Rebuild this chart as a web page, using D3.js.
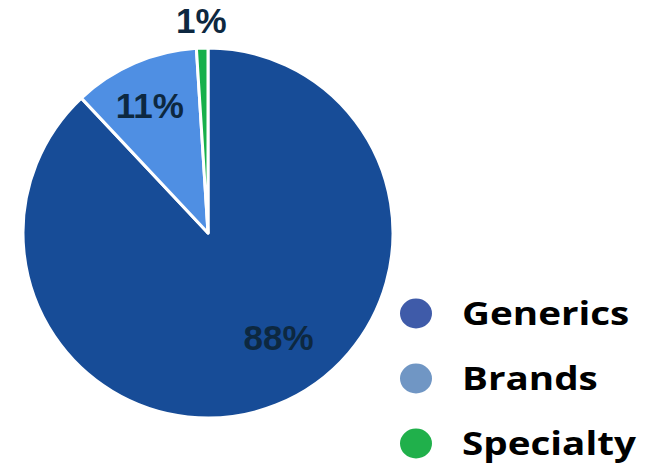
<!DOCTYPE html>
<html><head><meta charset="utf-8">
<script src="https://cdn.jsdelivr.net/npm/d3@7"></script>
<style>body{margin:0;background:#fff}svg{display:block}</style>
</head><body>
<svg id="c" width="647" height="467"></svg>
<script>
const categories = ["Generics", "Brands", "Specialty"];
const values = [88, 11, 1];
const labels = ["88%", "11%", "1%"];
const sliceColors = ["#174C97", "#4F8FE3", "#17B04B"];
const legendColors = ["#3F5BA9", "#7096C4", "#20B04B"];

const svg = d3.select("#c");
const cx = 208, cy = 233, r = 185;
const data = categories.map((c, i) => ({cat: c, value: values[i], label: labels[i], i}));
const pie = d3.pie().sort(null).value(d => d.value);
const arcs = pie(data);
const arc = d3.arc().innerRadius(0).outerRadius(r);
const g = svg.append("g").attr("transform", `translate(${cx},${cy})`);
g.selectAll("path").data(arcs).join("path")
  .attr("d", arc)
  .attr("fill", d => sliceColors[d.data.i])
  .attr("stroke", "#fff").attr("stroke-width", 3).attr("stroke-linejoin", "round");

// label placement config (radius, angular shift in radians)
const labelRadius = [126, 140, 213];
const labelShift = [-0.218, -0.02, 0];
function labelPos(d) {
  const a = (d.startAngle + d.endAngle) / 2 + labelShift[d.data.i];
  const rr = labelRadius[d.data.i];
  return [rr * Math.sin(a), -rr * Math.cos(a)];
}
g.selectAll("text.lbl").data(arcs).join("text")
  .attr("class", "lbl")
  .attr("transform", d => { const c = labelPos(d); return `translate(${c[0]},${c[1]})`; })
  .attr("text-anchor", "middle").attr("dy", "0.358em")
  .attr("font-family", "Liberation Sans, Arial, sans-serif").attr("font-weight", "bold")
  .attr("font-size", 35).attr("fill", "#0D2840")
  .text(d => d.data.label);

const leg = svg.append("g");
const ly = d3.scalePoint().domain(categories).range([313.5, 443.5]);
leg.selectAll("ellipse").data(categories).join("ellipse")
  .attr("cx", 416).attr("cy", d => ly(d)).attr("rx", 16).attr("ry", 15)
  .attr("fill", (d, i) => legendColors[i]);
leg.selectAll("text").data(categories).join("text")
  .attr("transform", d => `translate(462,${ly(d)}) scale(1.17,1)`)
  .attr("dy", "0.357em")
  .attr("font-family", "Open Sans, Liberation Sans, sans-serif").attr("font-weight", "bold")
  .attr("font-size", 33).attr("fill", "#000")
  .text(d => d);
</script>
</body></html>
